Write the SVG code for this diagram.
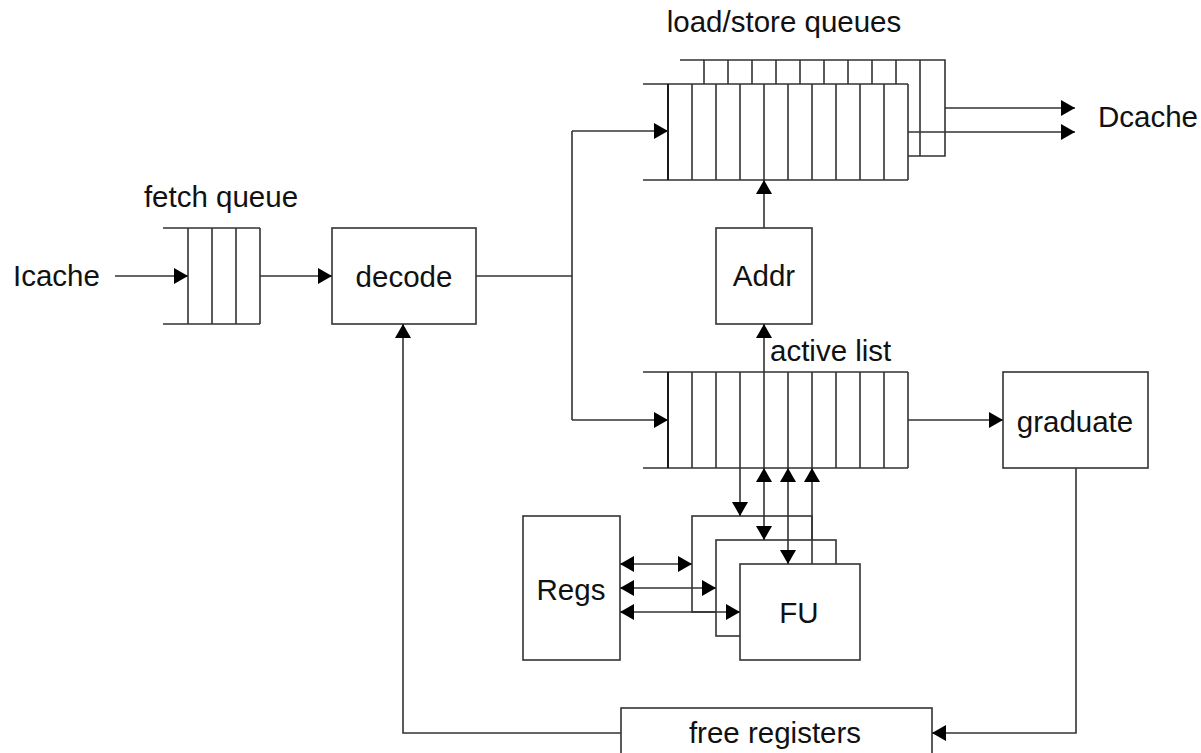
<svg xmlns="http://www.w3.org/2000/svg" width="1201" height="753" viewBox="0 0 1201 753">
<style>
.l{stroke:#333;stroke-width:1.6;fill:none}
.b{stroke:#333;stroke-width:1.6;fill:#fff}
.k{stroke:#1a1a1a;stroke-width:2;fill:none}
.t{font-family:"Liberation Sans",Arial,sans-serif;font-size:29.5px;fill:#111}
.m{text-anchor:middle}
</style>
<defs>
<marker id="a" markerUnits="userSpaceOnUse" markerWidth="15" markerHeight="16" refX="14" refY="8" orient="auto-start-reverse" viewBox="0 0 15 16">
<path d="M0,0 L14,8 L0,16 z" fill="#000"/>
</marker>
</defs>
<rect width="1201" height="753" fill="#fff"/>

<g id="fetchqueue">
<path class="l" d="M163,228H260M163,324H260M188,228V324M212,228V324M236,228V324M260,228V324"/>
<text class="t m" x="221" y="207">fetch queue</text>
</g>

<g id="icache"><text class="t" x="13" y="286">Icache</text></g>

<g id="decode">
<rect class="b" x="332" y="228" width="144" height="96"/>
<text class="t m" x="404" y="287">decode</text>
</g>

<g id="lsq">
<path class="b" d="M704,60H945V156H704z"/>
<path class="l" d="M680,60H704M728,60V156M752,60V156M776,60V156M800,60V156M824,60V156M848,60V156M872,60V156M896,60V156M920,60V156"/>
<rect x="668" y="84" width="240" height="96" fill="#fff" stroke="none"/>
<path class="l" d="M643,84H908M643,180H908M692,84V180M716,84V180M740,84V180M764,84V180M788,84V180M812,84V180M836,84V180M860,84V180M884,84V180M908,84V180"/>
<path class="k" d="M668,84V180"/>
<text class="t m" x="784" y="32">load/store queues</text>
</g>

<g id="dcache"><text class="t" x="1098" y="127">Dcache</text></g>

<g id="addr">
<rect class="b" x="716" y="228" width="96" height="96"/>
<text class="t m" x="764" y="286">Addr</text>
</g>

<g id="activelist">
<path class="l" d="M643,372H908M643,468H908M692,372V468M716,372V468M740,372V468M764,372V468M788,372V468M812,372V468M836,372V468M860,372V468M884,372V468M908,372V468"/>
<path class="k" d="M668,372V468"/>
<text class="t" x="770" y="361">active list</text>
</g>

<g id="graduate">
<rect class="b" x="1003" y="372" width="145" height="96"/>
<text class="t m" x="1075" y="432">graduate</text>
</g>

<g id="regs">
<rect class="b" x="523" y="516" width="97" height="144"/>
<text class="t m" x="571" y="600">Regs</text>
</g>

<g id="fu">
<rect class="b" x="692" y="516" width="120" height="96"/>
<rect class="b" x="716" y="540" width="120" height="96"/>
<rect class="b" x="740" y="564" width="120" height="96"/>
<text class="t m" x="799" y="623">FU</text>
</g>

<g id="freeregisters">
<rect class="b" x="621" y="708" width="311" height="60"/>
<text class="t m" x="775" y="743">free registers</text>
</g>

<g id="connectors">
<path class="l" d="M115,276H188" marker-end="url(#a)"/>
<path class="l" d="M260,276H332" marker-end="url(#a)"/>
<path class="l" d="M476,276H572"/>
<path class="l" d="M572,131V420"/>
<path class="l" d="M572,131H668" marker-end="url(#a)"/>
<path class="l" d="M572,420H668" marker-end="url(#a)"/>
<path class="l" d="M945,108H1075" marker-end="url(#a)"/>
<path class="l" d="M908,132H1075" marker-end="url(#a)"/>
<path class="l" d="M764,228V180" marker-end="url(#a)"/>
<path class="l" d="M764,372V324" marker-end="url(#a)"/>
<path class="l" d="M908,420H1003" marker-end="url(#a)"/>
<path class="l" d="M740,468V516" marker-end="url(#a)"/>
<path class="l" d="M764,468V540" marker-start="url(#a)" marker-end="url(#a)"/>
<path class="l" d="M788,468V564" marker-start="url(#a)" marker-end="url(#a)"/>
<path class="l" d="M812,564V468" marker-end="url(#a)"/>
<path class="l" d="M620,564H692" marker-start="url(#a)" marker-end="url(#a)"/>
<path class="l" d="M620,588H716" marker-start="url(#a)" marker-end="url(#a)"/>
<path class="l" d="M620,612H740" marker-start="url(#a)" marker-end="url(#a)"/>
<path class="l" d="M1076,468V733H932" marker-end="url(#a)"/>
<path class="l" d="M621,733H403V324" marker-end="url(#a)"/>
</g>
</svg>
